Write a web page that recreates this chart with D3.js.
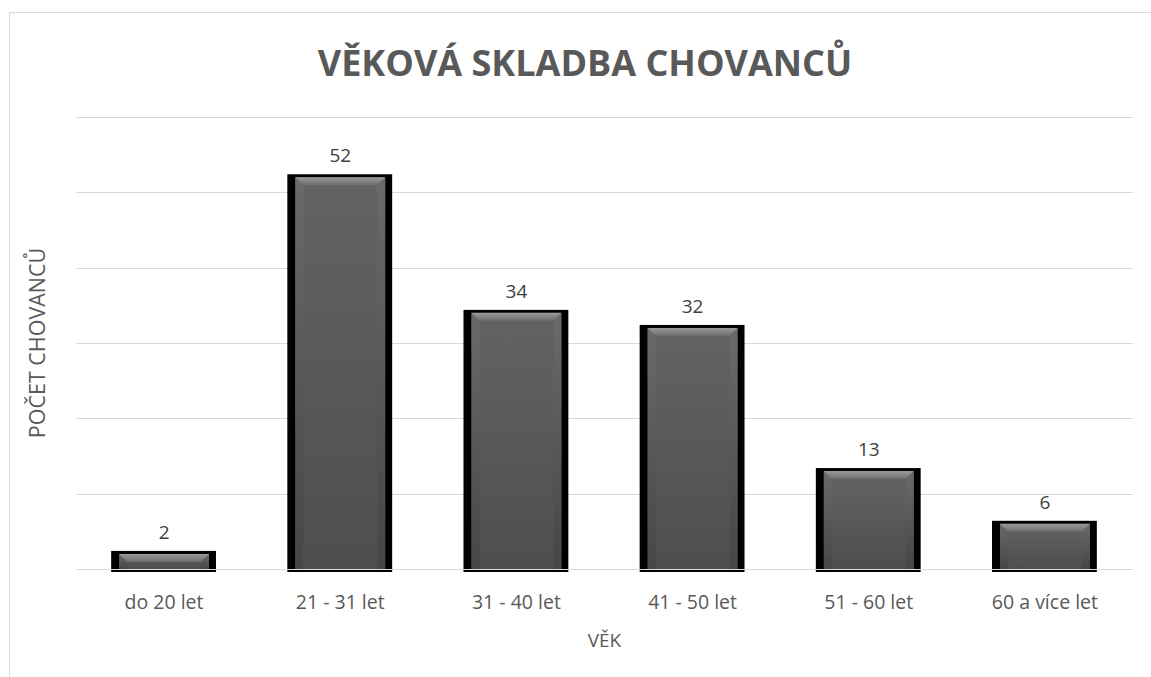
<!DOCTYPE html>
<html>
<head>
<meta charset="utf-8">
<script src="https://cdn.jsdelivr.net/npm/d3@7"></script>
<style>
  body { margin: 0; background: #fff; overflow: hidden; }
  text { font-family: "Open Sans", "Noto Sans", sans-serif; }
</style>
</head>
<body>
<div id="chart"></div>
<script>
var categories = ["do 20 let", "21 - 31 let", "31 - 40 let", "41 - 50 let", "51 - 60 let", "60 a více let"];
var values = [2, 52, 34, 32, 13, 6];
var yTicks = [0, 10, 20, 30, 40, 50, 60];

var width = 1151, height = 677;
var plotLeft = 76, plotRight = 1133, plotTop = 117, plotBottom = 569;

var svg = d3.select("#chart").append("svg")
    .attr("width", width)
    .attr("height", height)
    .style("display", "block");

var defs = svg.append("defs");

var topGrad = defs.append("linearGradient")
    .attr("id", "topBevel")
    .attr("x1", "0%").attr("y1", "0%").attr("x2", "0%").attr("y2", "100%");
topGrad.append("stop").attr("offset", "0%").attr("stop-color", "#9a9a9a");
topGrad.append("stop").attr("offset", "100%").attr("stop-color", "#6c6c6c");

var bodyGrad = defs.append("linearGradient")
    .attr("id", "bodyGrad")
    .attr("x1", "0%").attr("y1", "0%").attr("x2", "0%").attr("y2", "100%");
bodyGrad.append("stop").attr("offset", "0%").attr("stop-color", "#636363");
bodyGrad.append("stop").attr("offset", "100%").attr("stop-color", "#4e4e4e");

var sideGrad = defs.append("linearGradient")
    .attr("id", "sideGrad")
    .attr("x1", "0%").attr("y1", "0%").attr("x2", "0%").attr("y2", "100%");
sideGrad.append("stop").attr("offset", "0%").attr("stop-color", "#6a6a6a");
sideGrad.append("stop").attr("offset", "100%").attr("stop-color", "#464646");

// chart frame
svg.append("rect")
    .attr("x", 9.5).attr("y", 12.5)
    .attr("width", 1160).attr("height", 700)
    .attr("fill", "none")
    .attr("stroke", "#d9d9d9");

var x = d3.scaleBand()
    .domain(categories)
    .range([plotLeft, plotRight])
    .paddingInner(0.49)
    .paddingOuter(0.245);

var y = d3.scaleLinear()
    .domain([0, 60])
    .range([plotBottom, plotTop]);

// gridlines
svg.append("g")
    .selectAll("line")
    .data(yTicks)
    .join("line")
    .attr("x1", plotLeft).attr("x2", plotRight)
    .attr("y1", function(d){ return Math.round(y(d)) + 0.5; })
    .attr("y2", function(d){ return Math.round(y(d)) + 0.5; })
    .attr("stroke", "#d9d9d9")
    .attr("stroke-width", 1);

var bars = svg.append("g")
    .selectAll("g")
    .data(values)
    .join("g");

// black border
bars.append("rect")
    .attr("x", function(d, i){ return x(categories[i]) - 8; })
    .attr("y", function(d){ return y(d) - 3; })
    .attr("width", x.bandwidth() + 15)
    .attr("height", function(d){ return y(0) - y(d) + 6; })
    .attr("fill", "#000");

// bar body
bars.append("rect")
    .attr("x", function(d, i){ return x(categories[i]); })
    .attr("y", function(d){ return y(d); })
    .attr("width", x.bandwidth())
    .attr("height", function(d){ return y(0) - y(d); })
    .attr("fill", "url(#bodyGrad)");

var bev = 8;
// side bevels
bars.append("polygon")
    .attr("points", function(d, i){
        var x0 = x(categories[i]), y0 = y(d), y1 = y(0);
        return [[x0, y0], [x0 + bev, y0 + bev], [x0 + bev, y1], [x0, y1]].join(" ");
    })
    .attr("fill", "url(#sideGrad)");
bars.append("polygon")
    .attr("points", function(d, i){
        var x1 = x(categories[i]) + x.bandwidth(), y0 = y(d), y1 = y(0);
        return [[x1, y0], [x1 - bev, y0 + bev], [x1 - bev, y1], [x1, y1]].join(" ");
    })
    .attr("fill", "url(#sideGrad)");
// top bevel
bars.append("polygon")
    .attr("points", function(d, i){
        var x0 = x(categories[i]), x1 = x0 + x.bandwidth(), y0 = y(d);
        return [[x0, y0], [x1, y0], [x1 - bev, y0 + bev], [x0 + bev, y0 + bev]].join(" ");
    })
    .attr("fill", "url(#topBevel)");

// baseline over bars
svg.append("line")
    .attr("x1", plotLeft).attr("x2", plotRight)
    .attr("y1", Math.round(y(0)) + 0.5).attr("y2", Math.round(y(0)) + 0.5)
    .attr("stroke", "#d9d9d9");

// data labels
svg.append("g")
    .selectAll("text")
    .data(values)
    .join("text")
    .attr("x", function(d, i){ return x(categories[i]) + x.bandwidth() / 2; })
    .attr("y", function(d){ return y(d) - 15; })
    .attr("text-anchor", "middle")
    .attr("font-size", 19)
    .attr("fill", "#404040")
    .text(function(d){ return d; });

// category labels
svg.append("g")
    .selectAll("text")
    .data(categories)
    .join("text")
    .attr("x", function(d){ return x(d) + x.bandwidth() / 2; })
    .attr("y", 609)
    .attr("text-anchor", "middle")
    .attr("font-size", 19.5)
    .attr("fill", "#595959")
    .text(function(d){ return d; });

// axis titles
svg.append("text")
    .attr("x", (plotLeft + plotRight) / 2)
    .attr("y", 647)
    .attr("text-anchor", "middle")
    .attr("font-size", 19)
    .attr("fill", "#595959")
    .text("VĚK");

svg.append("text")
    .attr("transform", "translate(45," + ((plotTop + plotBottom) / 2) + ") rotate(-90)")
    .attr("text-anchor", "middle")
    .attr("font-size", 21.5)
    .attr("fill", "#595959")
    .text("POČET CHOVANCŮ");

// title
svg.append("text")
    .attr("x", 585)
    .attr("y", 76)
    .attr("text-anchor", "middle")
    .attr("font-size", 36)
    .attr("font-weight", "bold")
    .attr("fill", "#595959")
    .text("VĚKOVÁ SKLADBA CHOVANCŮ");
</script>
</body>
</html>
